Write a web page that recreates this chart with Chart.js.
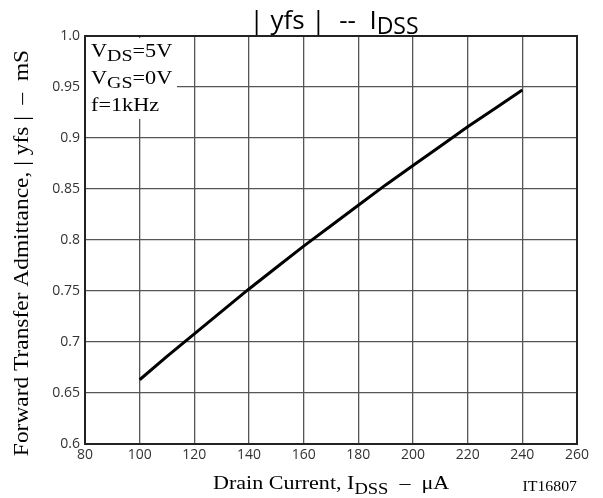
<!DOCTYPE html>
<html lang="en">
<head>
    <meta charset="UTF-8">
    <title>|yfs| -- IDSS</title>
    <style>
        body { margin: 0; background: #fff; }
        #wrap { width: 603px; height: 498px; }
    </style>
</head>
<body>
    <div id="wrap">
        <canvas id="yfsChart" width="603" height="498"></canvas>
    </div>

<script src="https://cdn.jsdelivr.net/npm/chart.js"></script>
<script>
    // datos
    const drainCurrent = [100, 110, 120, 130, 140, 150, 160, 170, 180, 190, 200, 210, 220, 230, 240];
    const yfsValues = [0.663, 0.686, 0.708, 0.730, 0.752, 0.773, 0.794, 0.814, 0.834, 0.854, 0.873, 0.892, 0.911, 0.929, 0.947];
    const conditions = [['V', 'DS', '=5V'], ['V', 'GS', '=0V'], ['f=1kHz', '', '']];

    const SERIF = '"Liberation Serif", "Times New Roman", serif';
    const SANS = '"Open Sans", "Noto Sans", sans-serif';

    // texto con subindice: partes [texto, esSub], sx = estiramiento horizontal
    function drawRich(ctx, parts, x, y, size, subSize, family, subShift, sx) {
        ctx.save();
        ctx.translate(x, y);
        ctx.scale(sx, 1);
        let cx = 0;
        parts.forEach(p => {
            ctx.font = (p[1] ? subSize : size) + 'px ' + family;
            ctx.fillText(p[0], cx, p[1] ? subShift : 0);
            cx += ctx.measureText(p[0]).width;
        });
        ctx.restore();
        return cx * sx;
    }
    function richWidth(ctx, parts, size, subSize, family, sx) {
        let w = 0;
        parts.forEach(p => {
            ctx.font = (p[1] ? subSize : size) + 'px ' + family;
            w += ctx.measureText(p[0]).width;
        });
        return w * sx;
    }

    const labelsPlugin = {
        id: 'labels',
        afterDraw(chart) {
            const ctx = chart.ctx;
            const a = chart.chartArea;
            ctx.save();
            ctx.fillStyle = '#000';
            ctx.textBaseline = 'alphabetic';
            ctx.textAlign = 'left';

            // cuadro de condiciones
            ctx.fillStyle = '#fff';
            ctx.fillRect(a.left + 1, a.top + 2, 91, 81);
            ctx.fillStyle = '#000';
            const baselines = [57, 84, 111];
            conditions.forEach((c, i) => {
                drawRich(ctx, [[c[0], false], [c[1], true], [c[2], false]], 91, baselines[i], 19, 17, SERIF, 4, 1.17);
            });

            // marco
            ctx.strokeStyle = '#222';
            ctx.lineWidth = 2;
            ctx.strokeRect(a.left, a.top, a.right - a.left, a.bottom - a.top);

            // titulo
            const tParts = [['| yfs |  --  I', false], ['DSS', true]];
            const tw = richWidth(ctx, tParts, 26, 23, SANS, 1);
            drawRich(ctx, tParts, (a.left + a.right) / 2 - tw / 2 + 3, 29, 26, 23, SANS, 5, 1);

            // titulo eje x
            const xParts = [['Drain Current, I', false], ['DSS', true], ['  \u2013  \u03bcA', false]];
            drawRich(ctx, xParts, 213, 489, 19, 16, SERIF, 5, 1.16);

            const idW = richWidth(ctx, [['IT16807', false]], 14, 14, SERIF, 1.13);
            drawRich(ctx, [['IT16807', false]], a.right - idW, 491, 14, 14, SERIF, 0, 1.13);

            // titulo eje y
            ctx.translate(28, 253);
            ctx.rotate(-Math.PI / 2);
            const yParts = [['Forward Transfer Admittance, | yfs |  \u2013  mS', false]];
            const yw = richWidth(ctx, yParts, 20, 16, SERIF, 1.17);
            drawRich(ctx, yParts, -yw / 2, 0, 20, 16, SERIF, 5, 1.17);
            ctx.restore();
        }
    };

    const ctx = document.getElementById('yfsChart').getContext('2d');
    const yfsChart = new Chart(ctx, {
        type: 'line',
        data: {
            labels: drainCurrent,
            datasets: [{
                data: drainCurrent.map((x, i) => ({ x: x, y: yfsValues[i] })),
                borderColor: '#000',
                borderWidth: 3,
                pointRadius: 0,
                tension: 0,
                fill: false
            }]
        },
        options: {
            responsive: false,
            animation: false,
            layout: { padding: { top: 36, right: 26, left: 0, bottom: 0 } },
            plugins: {
                legend: { display: false },
                tooltip: { enabled: false }
            },
            scales: {
                x: {
                    type: 'linear',
                    min: 80,
                    max: 260,
                    afterFit: s => { s.height = 54; },
                    ticks: {
                        stepSize: 20,
                        color: '#333',
                        padding: 3,
                        font: { family: SANS, size: 14 }
                    },
                    grid: { color: '#555', lineWidth: 1.3, drawTicks: false },
                    border: { display: false }
                },
                y: {
                    min: 0.6,
                    max: 1.0,
                    afterFit: s => { s.width = 85; },
                    ticks: {
                        stepSize: 0.05,
                        color: '#333',
                        padding: 5,
                        font: { family: SANS, size: 14 },
                        callback: v => (Math.abs(v - 1) < 1e-9 ? '1.0' : String(+v.toFixed(2)))
                    },
                    grid: { color: '#555', lineWidth: 1.3, drawTicks: false },
                    border: { display: false }
                }
            }
        },
        plugins: [labelsPlugin]
    });
</script>
</body>
</html>
